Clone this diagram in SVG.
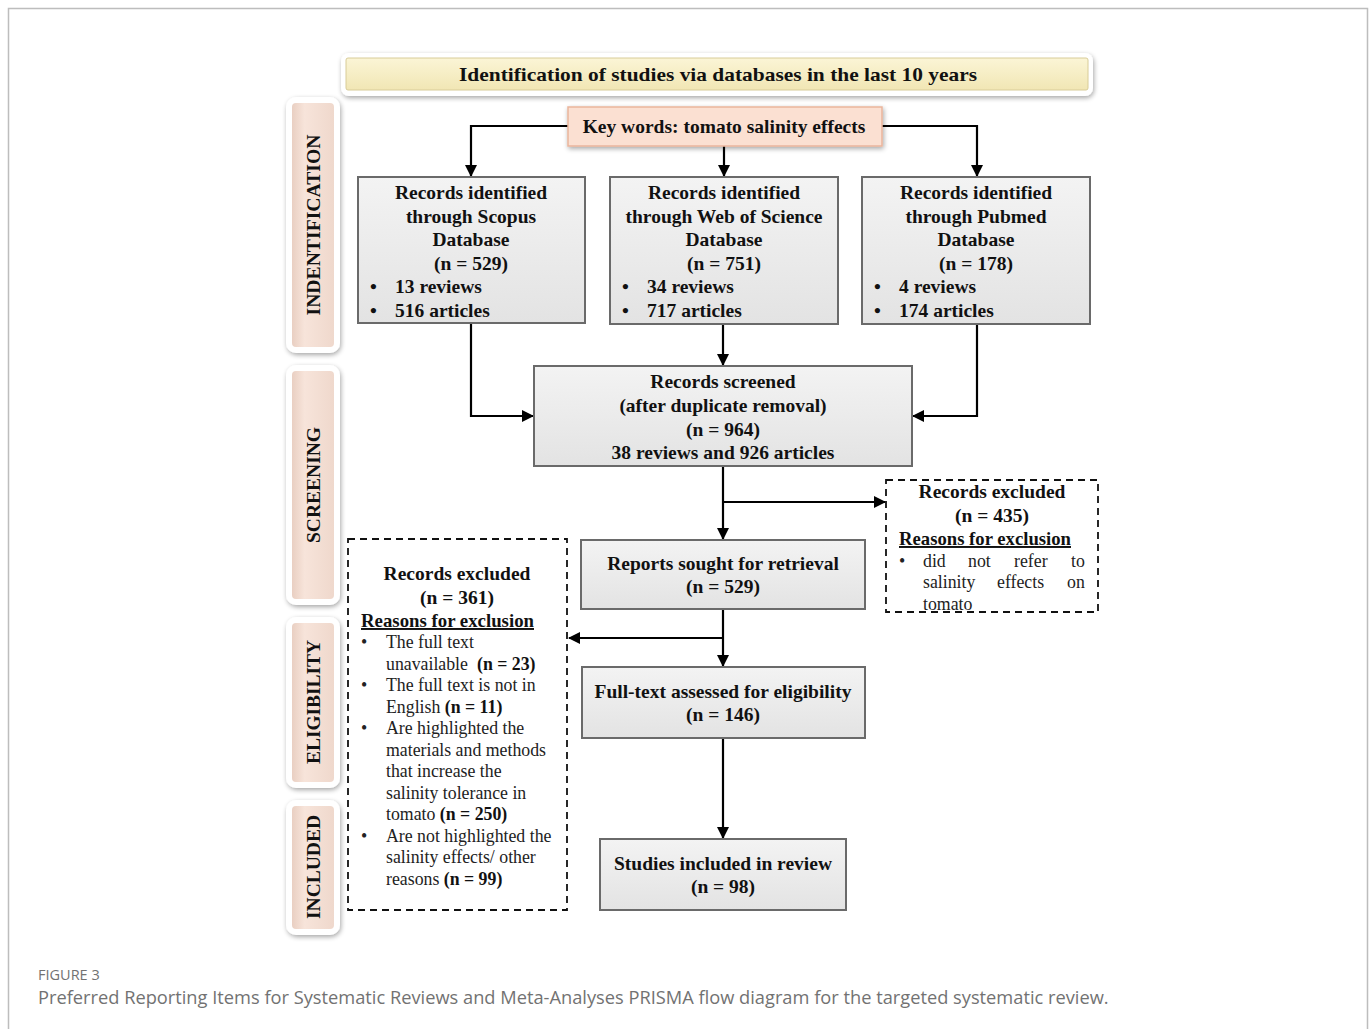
<svg xmlns="http://www.w3.org/2000/svg" width="1372" height="1029" viewBox="0 0 1372 1029">
<defs>
<style>
.t{font-family:"Liberation Serif","Times New Roman",serif;font-weight:bold;font-size:19.5px;fill:#111;}
.n{font-family:"Liberation Serif","Times New Roman",serif;font-size:17.8px;fill:#222;}
.nb{font-weight:bold;fill:#111;}
.side{font-family:"Liberation Serif","Times New Roman",serif;font-weight:bold;font-size:18px;fill:#111;}
.box{fill:url(#gbox);stroke:#6a6a6a;stroke-width:2;}
.dash{fill:#fff;stroke:#111;stroke-width:1.8;stroke-dasharray:7,5;}
.ln{fill:none;stroke:#000;stroke-width:2.2;}
.cap{font-family:"Open Sans","Noto Sans",sans-serif;fill:#727272;}
</style>
<linearGradient id="gbox" x1="0" y1="0" x2="0" y2="1">
<stop offset="0" stop-color="#f3f3f3"/><stop offset="1" stop-color="#e3e3e3"/>
</linearGradient>
<linearGradient id="gtitle" x1="0" y1="0" x2="0" y2="1">
<stop offset="0" stop-color="#fbf5d6"/><stop offset="1" stop-color="#f1e6b4"/>
</linearGradient>
<linearGradient id="gside" x1="0" y1="0" x2="1" y2="0">
<stop offset="0" stop-color="#e9cfc2"/><stop offset="0.3" stop-color="#f7e4da"/><stop offset="1" stop-color="#efd8cc"/>
</linearGradient>
<filter id="sh" x="-20%" y="-20%" width="140%" height="140%">
<feGaussianBlur in="SourceAlpha" stdDeviation="2.5"/>
<feOffset dx="1" dy="2"/>
<feComponentTransfer><feFuncA type="linear" slope="0.35"/></feComponentTransfer>
<feMerge><feMergeNode/><feMergeNode in="SourceGraphic"/></feMerge>
</filter>
<marker id="ar" markerUnits="userSpaceOnUse" markerWidth="12" markerHeight="12" refX="11" refY="6" orient="auto">
<path d="M0,0 L12,6 L0,12 z" fill="#000"/>
</marker>
</defs>
<rect width="1372" height="1029" fill="#fff"/>
<path d="M8.5,1029 V8.5 H1367.5 V1029" fill="none" stroke="#bdbdbd" stroke-width="1.5"/>

<!-- title banner -->
<g id="title">
<rect x="341" y="53" width="752" height="43" rx="8" fill="#fff" filter="url(#sh)"/>
<rect x="346" y="58" width="742" height="32" rx="2" fill="url(#gtitle)" stroke="#d8cc98" stroke-width="1"/>
<text class="t" x="718" y="81" text-anchor="middle" font-size="19" textLength="518" lengthAdjust="spacingAndGlyphs">Identification of studies via databases in the last 10 years</text>
</g>

<!-- side labels -->
<g id="side-identification">
<rect x="286" y="97" width="54" height="256" rx="10" fill="#fff" filter="url(#sh)"/>
<rect x="292" y="103" width="42" height="244" rx="4" fill="url(#gside)"/>
<text class="side" transform="translate(320,225) rotate(-90)" text-anchor="middle" textLength="181" lengthAdjust="spacingAndGlyphs">INDENTIFICATION</text>
</g>
<g id="side-screening">
<rect x="286" y="365" width="54" height="240" rx="10" fill="#fff" filter="url(#sh)"/>
<rect x="292" y="371" width="42" height="228" rx="4" fill="url(#gside)"/>
<text class="side" transform="translate(320,485) rotate(-90)" text-anchor="middle" textLength="116" lengthAdjust="spacingAndGlyphs">SCREENING</text>
</g>
<g id="side-eligibility">
<rect x="286" y="617" width="54" height="171" rx="10" fill="#fff" filter="url(#sh)"/>
<rect x="292" y="623" width="42" height="159" rx="4" fill="url(#gside)"/>
<text class="side" transform="translate(320,702) rotate(-90)" text-anchor="middle" textLength="124" lengthAdjust="spacingAndGlyphs">ELIGIBILITY</text>
</g>
<g id="side-included">
<rect x="286" y="800" width="54" height="135" rx="10" fill="#fff" filter="url(#sh)"/>
<rect x="292" y="806" width="42" height="123" rx="4" fill="url(#gside)"/>
<text class="side" transform="translate(320,867) rotate(-90)" text-anchor="middle" textLength="104" lengthAdjust="spacingAndGlyphs">INCLUDED</text>
</g>

<!-- connectors -->
<g id="connectors">
<path class="ln" d="M568,126 H471 V176" marker-end="url(#ar)"/>
<path class="ln" d="M882,126 H977 V176" marker-end="url(#ar)"/>
<path class="ln" d="M724,146 V176" marker-end="url(#ar)"/>
<path class="ln" d="M471,323 V416 H533" marker-end="url(#ar)"/>
<path class="ln" d="M977,324 V416 H913" marker-end="url(#ar)"/>
<path class="ln" d="M723,324 V365" marker-end="url(#ar)"/>
<path class="ln" d="M723,466 V539" marker-end="url(#ar)"/>
<path class="ln" d="M723,502 H885" marker-end="url(#ar)"/>
<path class="ln" d="M723,609 V666" marker-end="url(#ar)"/>
<path class="ln" d="M723,638 H569" marker-end="url(#ar)"/>
<path class="ln" d="M723,738 V838" marker-end="url(#ar)"/>
</g>

<g id="keywords">
<rect x="568" y="107" width="314" height="39" fill="#fbe0d2" stroke="#eab59c" stroke-width="1.5" filter="url(#sh)"/>
<text class="t" x="724" y="133" text-anchor="middle">Key words: tomato salinity effects</text>
</g>

<g id="scopus">
<rect class="box" x="358" y="177" width="227" height="146"/>
<text class="t" text-anchor="middle"><tspan x="471" y="199">Records identified</tspan><tspan x="471" y="223">through Scopus</tspan><tspan x="471" y="246">Database</tspan><tspan x="471" y="270">(n = 529)</tspan></text>
<text class="t"><tspan x="370" y="293">•</tspan><tspan x="395" y="293">13 reviews</tspan><tspan x="370" y="317">•</tspan><tspan x="395" y="317">516 articles</tspan></text>
</g>
<g id="wos">
<rect class="box" x="610" y="177" width="228" height="147"/>
<text class="t" text-anchor="middle"><tspan x="724" y="199">Records identified</tspan><tspan x="724" y="223">through Web of Science</tspan><tspan x="724" y="246">Database</tspan><tspan x="724" y="270">(n = 751)</tspan></text>
<text class="t"><tspan x="622" y="293">•</tspan><tspan x="647" y="293">34 reviews</tspan><tspan x="622" y="317">•</tspan><tspan x="647" y="317">717 articles</tspan></text>
</g>
<g id="pubmed">
<rect class="box" x="862" y="177" width="228" height="147"/>
<text class="t" text-anchor="middle"><tspan x="976" y="199">Records identified</tspan><tspan x="976" y="223">through Pubmed</tspan><tspan x="976" y="246">Database</tspan><tspan x="976" y="270">(n = 178)</tspan></text>
<text class="t"><tspan x="874" y="293">•</tspan><tspan x="899" y="293">4 reviews</tspan><tspan x="874" y="317">•</tspan><tspan x="899" y="317">174 articles</tspan></text>
</g>

<g id="screened">
<rect class="box" x="534" y="366" width="378" height="100"/>
<text class="t" text-anchor="middle"><tspan x="723" y="388">Records screened</tspan><tspan x="723" y="412">(after duplicate removal)</tspan><tspan x="723" y="436">(n = 964)</tspan><tspan x="723" y="459">38 reviews and 926 articles</tspan></text>
</g>

<g id="excluded-screening">
<rect class="dash" x="886" y="480" width="212" height="132"/>
<text class="t" text-anchor="middle"><tspan x="992" y="498">Records excluded</tspan><tspan x="992" y="522">(n = 435)</tspan></text>
<text class="t" x="899" y="545" text-decoration="underline" textLength="172" lengthAdjust="spacingAndGlyphs">Reasons for exclusion</text>
<text class="n"><tspan x="899" y="567">•</tspan><tspan x="923" y="567">did</tspan><tspan x="968" y="567">not</tspan><tspan x="1014" y="567">refer</tspan><tspan x="1071" y="567">to</tspan><tspan x="923" y="588">salinity</tspan><tspan x="997" y="588">effects</tspan><tspan x="1067" y="588">on</tspan><tspan x="923" y="610">tomato</tspan></text>
</g>

<g id="reports">
<rect class="box" x="581" y="540" width="284" height="69"/>
<text class="t" text-anchor="middle"><tspan x="723" y="570">Reports sought for retrieval</tspan><tspan x="723" y="593">(n = 529)</tspan></text>
</g>

<g id="excluded-eligibility">
<rect class="dash" x="348" y="539" width="219" height="371"/>
<text class="t" text-anchor="middle"><tspan x="457" y="580">Records excluded</tspan><tspan x="457" y="604">(n = 361)</tspan></text>
<text class="t" x="361" y="627" text-decoration="underline" textLength="173" lengthAdjust="spacingAndGlyphs">Reasons for exclusion</text>
<text class="n">
<tspan x="361" y="648">•</tspan><tspan x="386" y="648">The full text</tspan>
<tspan x="386" y="670">unavailable</tspan><tspan class="nb" x="477" y="670">(n = 23)</tspan>
<tspan x="361" y="691">•</tspan><tspan x="386" y="691">The full text is not in</tspan>
<tspan x="386" y="713">English <tspan class="nb">(n = 11)</tspan></tspan>
<tspan x="361" y="734">•</tspan><tspan x="386" y="734">Are highlighted the</tspan>
<tspan x="386" y="756">materials and methods</tspan>
<tspan x="386" y="777">that increase the</tspan>
<tspan x="386" y="799">salinity tolerance in</tspan>
<tspan x="386" y="820">tomato <tspan class="nb">(n = 250)</tspan></tspan>
<tspan x="361" y="842">•</tspan><tspan x="386" y="842">Are not highlighted the</tspan>
<tspan x="386" y="863">salinity effects/ other</tspan>
<tspan x="386" y="885">reasons <tspan class="nb">(n = 99)</tspan></tspan>
</text>
</g>

<g id="fulltext">
<rect class="box" x="582" y="667" width="283" height="71"/>
<text class="t" text-anchor="middle"><tspan x="723" y="698">Full-text assessed for eligibility</tspan><tspan x="723" y="721">(n = 146)</tspan></text>
</g>

<g id="included">
<rect class="box" x="600" y="839" width="246" height="71"/>
<text class="t" text-anchor="middle"><tspan x="723" y="870">Studies included in review</tspan><tspan x="723" y="893">(n = 98)</tspan></text>
</g>

<g id="caption">
<text class="cap" x="38" y="980" font-size="14.5">FIGURE 3</text>
<text class="cap" x="38" y="1004" font-size="18.25">Preferred Reporting Items for Systematic Reviews and Meta-Analyses PRISMA flow diagram for the targeted systematic review.</text>
</g>
</svg>
